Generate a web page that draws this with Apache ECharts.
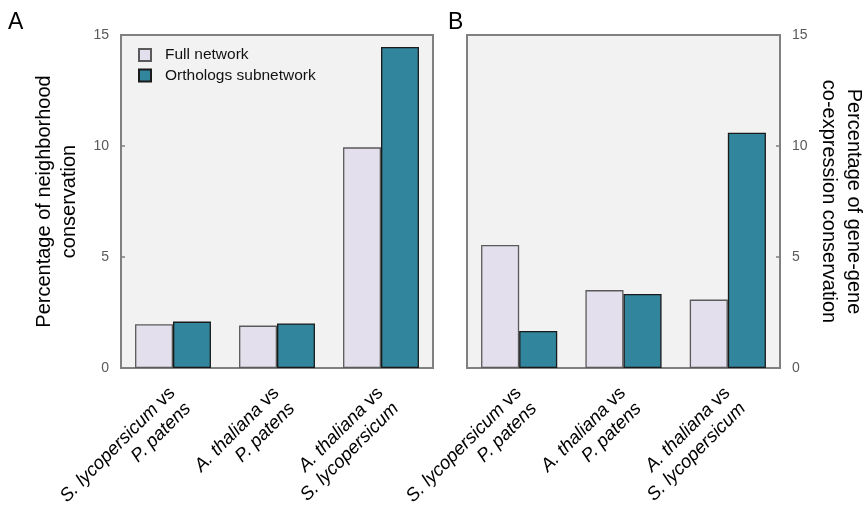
<!DOCTYPE html>
<html>
<head>
<meta charset="utf-8">
<script src="https://cdn.jsdelivr.net/npm/echarts@6/dist/echarts.min.js"></script>
<style>
  html, body { margin: 0; padding: 0; background: #ffffff; }
  #chart { width: 868px; height: 507px; }
</style>
</head>
<body>
<div id="chart"></div>
<script>
// Species pairs compared (first species vs second species)
const categories = [
  'S. lycopersicum vs\nP. patens',
  'A. thaliana vs\nP. patens',
  'A. thaliana vs\nS. lycopersicum'
];
const seriesNames = ['Full network', 'Orthologs subnetwork'];

// Panel A: percentage of neighborhood conservation
const neighborhoodFull = [1.97, 1.91, 9.94];
const neighborhoodOrthologs = [2.09, 2.01, 14.46];

// Panel B: percentage of gene-gene co-expression conservation
const coexpressionFull = [5.54, 3.51, 3.08];
const coexpressionOrthologs = [1.67, 3.33, 10.6];

const yTicks = { min: 0, max: 15, interval: 5 };

const FONT = '"Liberation Sans", Arial, sans-serif';
const fullStyle = { color: '#E4DFEC', borderColor: '#5a5a5a', borderWidth: 1.3 };
const orthoStyle = { color: '#31859C', borderColor: '#1a1a1a', borderWidth: 1.3 };

// Species names in italics, the "vs" upright
function speciesLabel(value) {
  const lines = value.split('\n');
  const first = lines[0].replace(/ vs$/, '');
  return '{i|' + first + '} vs\n{i|' + lines[1] + '}';
}

function categoryAxis(gridIndex) {
  return {
    type: 'category',
    gridIndex: gridIndex,
    data: categories,
    axisLine: { show: false },
    axisTick: { show: false },
    axisLabel: {
      interval: 0,
      rotate: 45,
      margin: 6,
      align: 'right',
      verticalAlign: 'top',
      padding: [0, 12, 0, 0],
      fontFamily: FONT,
      fontSize: 18.5,
      lineHeight: 22,
      color: '#000',
      formatter: speciesLabel,
      rich: {
        i: { fontStyle: 'italic', fontFamily: FONT, fontSize: 18.5, lineHeight: 22, color: '#000' }
      }
    }
  };
}

function valueAxis(gridIndex, position, name, nameRotate, nameGap) {
  return {
    type: 'value',
    gridIndex: gridIndex,
    position: position,
    min: yTicks.min,
    max: yTicks.max,
    interval: yTicks.interval,
    splitLine: { show: false },
    axisLine: { show: false },
    axisTick: { show: true, inside: true, length: 4, lineStyle: { color: '#7f7f7f', width: 1.5 } },
    axisLabel: { margin: 12, fontFamily: FONT, fontSize: 14, color: '#595959' },
    name: name,
    nameLocation: 'middle',
    nameRotate: nameRotate,
    nameGap: nameGap,
    nameTextStyle: { fontFamily: FONT, fontSize: 20, lineHeight: 25, color: '#000' }
  };
}

const gridBox = {
  show: true, backgroundColor: '#F2F2F2', borderColor: '#808080', borderWidth: 2,
  top: 35, height: 333, containLabel: false, outerBoundsMode: 'none'
};

const option = {
  animation: false,
  backgroundColor: '#ffffff',
  title: [
    { text: 'A', left: 3, top: 6, textStyle: { fontFamily: FONT, fontSize: 23, fontWeight: 'normal', color: '#000' } },
    { text: 'B', left: 443, top: 6, textStyle: { fontFamily: FONT, fontSize: 23, fontWeight: 'normal', color: '#000' } }
  ],
  legend: {
    orient: 'vertical',
    left: 138,
    top: 47,
    padding: 0,
    itemWidth: 12,
    itemHeight: 12,
    itemGap: 4.5,
    icon: 'rect',
    data: seriesNames,
    textStyle: { fontFamily: FONT, fontSize: 15.5, color: '#111', padding: [0, 0, 0, 9] }
  },
  grid: [
    Object.assign({ left: 121, width: 312 }, gridBox),
    Object.assign({ left: 467, width: 313 }, gridBox)
  ],
  xAxis: [categoryAxis(0), categoryAxis(1)],
  yAxis: [
    valueAxis(0, 'left', 'Percentage of neighborhood\nconservation', 90, 39),
    valueAxis(1, 'right', 'Percentage of gene-gene\nco-expression conservation', -90, 36)
  ],
  series: [
    { name: seriesNames[0], type: 'bar', xAxisIndex: 0, yAxisIndex: 0, data: neighborhoodFull,
      itemStyle: fullStyle, barGap: '0%', barCategoryGap: '27%' },
    { name: seriesNames[1], type: 'bar', xAxisIndex: 0, yAxisIndex: 0, data: neighborhoodOrthologs,
      itemStyle: orthoStyle, barGap: '0%', barCategoryGap: '27%' },
    { name: seriesNames[0], type: 'bar', xAxisIndex: 1, yAxisIndex: 1, data: coexpressionFull,
      itemStyle: fullStyle, barGap: '0%', barCategoryGap: '27%' },
    { name: seriesNames[1], type: 'bar', xAxisIndex: 1, yAxisIndex: 1, data: coexpressionOrthologs,
      itemStyle: orthoStyle, barGap: '0%', barCategoryGap: '27%' }
  ]
};

const chart = echarts.init(document.getElementById('chart'), null, { renderer: 'canvas' });
chart.setOption(option);
</script>
</body>
</html>
